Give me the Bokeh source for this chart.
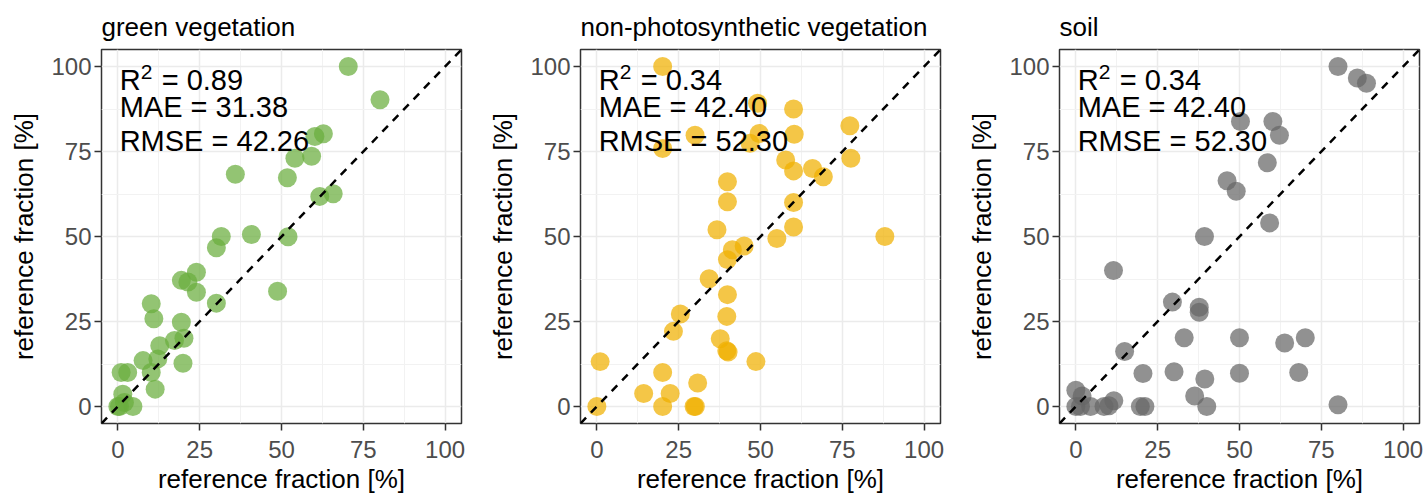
from bokeh.plotting import figure
from bokeh.layouts import row
from bokeh.models import FixedTicker, Range1d, Slope
from bokeh.core.properties import value
from bokeh.embed import file_html
from bokeh.resources import INLINE

FONT = "Liberation Sans"

# ---------------- data ----------------
titles = ["green vegetation", "non-photosynthetic vegetation", "soil"]
r2_vals = ["0.89", "0.34", "0.34"]
mae_vals = ["31.38", "42.40", "42.40"]
rmse_vals = ["42.26", "52.30", "52.30"]
tick_values = [0, 25, 50, 75, 100]
minor_values = [12.5, 37.5, 62.5, 87.5]
axis_min, axis_max = -5, 105
x_label = "reference fraction [%]"
y_label = "reference fraction [%]"

green_x = [70.4, 80.1, 62.8, 60.2, 59.2, 54.1, 51.8, 35.9, 61.7, 65.8,
           40.8, 52.0, 31.6, 30.1, 24.0, 19.4, 21.4, 24.0, 48.8, 30.1,
           10.2, 11.0, 19.4, 17.3, 20.2, 12.8, 12.2, 7.7, 19.9, 10.2,
           1.0, 3.0, 11.4, 1.5, 0.0, 4.6, 2.0, 0.5]
green_y = [100, 90.2, 80.2, 79.4, 73.6, 73.0, 67.3, 68.3, 61.8, 62.6,
           50.6, 49.9, 50.0, 46.7, 39.5, 37.1, 36.6, 33.6, 33.9, 30.4,
           30.2, 25.8, 24.8, 19.4, 20.1, 17.9, 14.0, 13.5, 12.7, 10.0,
           10.0, 10.0, 5.1, 3.6, 0.0, 0.0, 1.2, 0.0]

npv_x = [20.1, 20.1, 30.0, 46.8, 49.1, 49.6, 60.1, 60.3, 77.3, 77.6,
         57.7, 60.1, 65.9, 69.2, 39.9, 39.9, 60.1, 60.1, 36.7, 55.0,
         88.0, 45.0, 41.4, 39.9, 34.3, 39.9, 39.7, 25.5, 23.4, 37.7,
         39.7, 40.1, 48.6, 1.0, 20.1, 30.8, 14.3, 22.4, 20.1, 29.7,
         30.1, 0.0]
npv_y = [100, 75.9, 79.8, 77.4, 89.2, 80.3, 87.5, 80.1, 82.6, 73.0,
         72.5, 69.3, 70.0, 67.6, 66.1, 60.2, 60.0, 52.8, 52.0, 49.4,
         50.0, 47.2, 46.1, 43.2, 37.6, 32.9, 26.5, 27.2, 22.1, 19.9,
         16.4, 16.0, 13.2, 13.2, 10.0, 6.9, 3.8, 3.8, 0.0, 0.0,
         0.0, 0.0]

soil_x = [80.1, 86.0, 88.8, 50.3, 60.2, 62.2, 58.5, 46.2, 49.0, 59.2,
          39.3, 11.5, 29.5, 37.7, 37.7, 14.9, 33.1, 50.0, 63.8, 70.1,
          20.5, 30.0, 39.4, 50.0, 68.1, 36.3, 40.0, 80.1, 19.7, 21.1,
          11.6, 10.1, 8.6, 4.5, 0.0, 1.9, 0.0, 1.4]
soil_y = [100, 96.6, 95.1, 83.8, 83.8, 79.8, 71.7, 66.4, 63.3, 54.0,
          50.0, 40.0, 30.7, 29.2, 27.7, 16.2, 20.2, 20.2, 18.7, 20.2,
          9.7, 10.2, 8.1, 9.8, 10.0, 3.1, 0.0, 0.5, 0.0, 0.0,
          1.7, 0.2, 0.0, 0.0, 4.8, 3.1, 0.0, 0.0]

colors = ["#6AAD3D", "#F0B000", "#666666"]
series_x = [green_x, npv_x, soil_x]
series_y = [green_y, npv_y, soil_y]

# text anchor (data coords) and baselines of the three stat lines
text_x = 0.55
text_rows = [96.0, 88.0, 78.2]


def make_panel(i, width, right_border):
    p = figure(width=width, height=496, output_backend="svg", toolbar_location=None,
               x_range=Range1d(axis_min, axis_max), y_range=Range1d(axis_min, axis_max),
               min_border_left=101, min_border_right=right_border,
               min_border_top=49, min_border_bottom=73)
    p.background_fill_color = "white"
    p.border_fill_color = "white"
    p.outline_line_color = "#333333"
    p.outline_line_width = 1.5

    p.title.text = titles[i]
    p.title.text_font = FONT
    p.title.text_font_size = "26px"
    p.title.text_font_style = "normal"
    p.title.text_color = "black"
    p.title.align = "left"
    p.title.offset = 0
    p.title.standoff = 16

    for ax in (p.xaxis[0], p.yaxis[0]):
        ax.ticker = FixedTicker(ticks=tick_values, minor_ticks=minor_values)
        ax.axis_line_color = None
        ax.major_tick_line_color = "#333333"
        ax.major_tick_line_width = 1.5
        ax.major_tick_out = 7
        ax.major_tick_in = 0
        ax.minor_tick_line_color = None
        ax.major_label_text_font = FONT
        ax.major_label_text_font_size = "24px"
        ax.major_label_text_color = "#4D4D4D"
        ax.axis_label_text_font = FONT
        ax.axis_label_text_font_size = "26px"
        ax.axis_label_text_font_style = "normal"
        ax.axis_label_text_color = "black"
    p.xaxis.axis_label = x_label
    p.yaxis.axis_label = y_label
    p.xaxis.major_label_standoff = 10
    p.xaxis.axis_label_standoff = 3
    p.yaxis.major_label_standoff = 3
    p.yaxis.axis_label_standoff = 9

    for g in (p.xgrid[0], p.ygrid[0]):
        g.grid_line_color = "#EBEBEB"
        g.grid_line_width = 1.5
        g.minor_grid_line_color = "#F2F2F2"
        g.minor_grid_line_width = 1

    p.scatter(series_x[i], series_y[i], size=19, fill_color=colors[i],
              fill_alpha=0.72, line_color=None)

    p.add_layout(Slope(gradient=1, y_intercept=0, line_color="black",
                       line_width=2.5, line_dash="8 7"))

    # stat annotations
    common = dict(text_font=value(FONT), text_baseline="alphabetic",
                  text_align="left", text_color="black")
    p.text(x=[text_x], y=[text_rows[0]], text=["R"], text_font_size="29px", **common)
    p.text(x=[text_x], y=[text_rows[0]], text=["2"], text_font_size="21px",
           x_offset=21, y_offset=-8.5, **common)
    p.text(x=[text_x], y=[text_rows[0]], text=["= " + r2_vals[i]], text_font_size="29px",
           x_offset=42, **common)
    p.text(x=[text_x], y=[text_rows[1]], text=["MAE = " + mae_vals[i]],
           text_font_size="29px", **common)
    p.text(x=[text_x], y=[text_rows[2]], text=["RMSE = " + rmse_vals[i]],
           text_font_size="29px", **common)
    return p


p1 = make_panel(0, 479, 18)
p2 = make_panel(1, 479, 18)
p3 = make_panel(2, 469, 8)

layout = row(p1, p2, p3)
open("out.html", "w").write(file_html(layout, INLINE))
